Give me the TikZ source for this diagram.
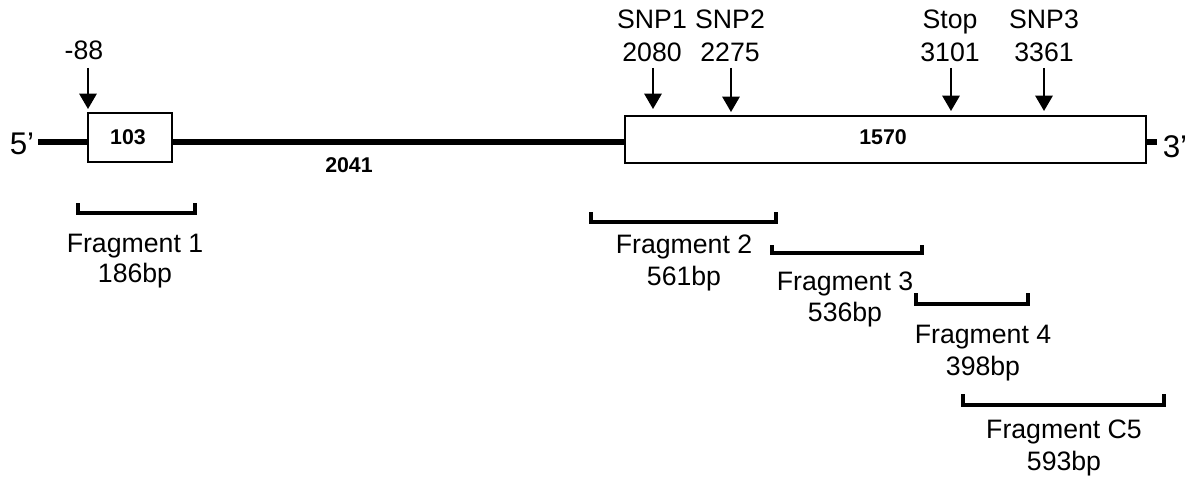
\documentclass[tikz,border=0pt]{standalone}
\usepackage{fontspec}
\setmainfont{Liberation Sans}
\usetikzlibrary{arrows.meta}
\tikzset{
  lbl/.style={anchor=base,inner sep=0pt,font=\fontsize{20pt}{24pt}\selectfont},
  endlbl/.style={anchor=base,inner sep=0pt,font=\fontsize{23.5pt}{28pt}\selectfont},
  blbl/.style={anchor=base,inner sep=0pt,font=\fontsize{16pt}{19pt}\selectfont\bfseries},
  exon/.style={draw,line width=1.5pt,fill=white,inner sep=0pt},
  dna/.style={line width=4.2pt},
  marker/.style={line width=1.4pt,-{Triangle[width=13pt,length=11.5pt]}},
  frag/.style={line width=3pt}
}
\begin{document}
\begin{tikzpicture}[x=0.75pt,y=-0.75pt]
\useasboundingbox (0,0) rectangle (1191,481);
% exons
\node[exon,minimum width=63pt,minimum height=36.75pt] (box1) at (130,137.5) {};
\node[exon,minimum width=390.75pt,minimum height=35.25pt] (box2) at (885.5,139.5) {};
% DNA line
\coordinate (l5) at (38,142);
\coordinate (l3) at (1157,142);
\draw[dna] (l5) -- (box1.west |- l5);
\draw[dna] (box1.east |- l5) -- (box2.west |- l5);
\draw[dna] (box2.east |- l3) -- (l3);
% end labels
\node[endlbl] (p5) at (22,155) {5’};
\node[endlbl] (p3) at (1175,157) {3’};
% exon labels
\node[blbl] (e103) at (128,145) {103};
\node[blbl] (e1570) at (883,145) {1570};
\node[blbl] (i2041) at (349,172) {2041};
% markers
\node[lbl] (m88) at (84,60) {-88};
\coordinate (a88) at (88,68);
\draw[marker,shorten >=2.25pt] (a88) -- (a88 |- box1.north);
\node[lbl] (snp1a) at (652,29) {SNP1};
\node[lbl] (snp1b) at (652,62) {2080};
\coordinate (a1) at (653,68);
\draw[marker,shorten >=4.5pt] (a1) -- (a1 |- box2.north);
\node[lbl] (snp2a) at (730,29) {SNP2};
\node[lbl] (snp2b) at (730,62) {2275};
\coordinate (a2) at (731,68);
\draw[marker,shorten >=2.25pt] (a2) -- (a2 |- box2.north);
\node[lbl] (stopa) at (950,29) {Stop};
\node[lbl] (stopb) at (950,62) {3101};
\coordinate (a3) at (951,68);
\draw[marker,shorten >=3pt] (a3) -- (a3 |- box2.north);
\node[lbl] (snp3a) at (1044,29) {SNP3};
\node[lbl] (snp3b) at (1044,62) {3361};
\coordinate (a4) at (1044,68);
\draw[marker,shorten >=3pt] (a4) -- (a4 |- box2.north);
% fragments
\draw[frag] (78,203) -- (78,213) -- (195,213) -- (195,203);
\node[lbl] (f1a) at (135,252) {Fragment 1};
\node[lbl] (f1b) at (135,282) {186bp};
\draw[frag] (591,212) -- (591,222) -- (776,222) -- (776,212);
\node[lbl] (f2a) at (684,253) {Fragment 2};
\node[lbl] (f2b) at (684,285) {561bp};
\draw[frag] (772,245) -- (772,253) -- (922,253) -- (922,245);
\node[lbl] (f3a) at (845,290) {Fragment 3};
\node[lbl] (f3b) at (845,321) {536bp};
\draw[frag] (916,293) -- (916,304) -- (1028,304) -- (1028,293);
\node[lbl] (f4a) at (983,343) {Fragment 4};
\node[lbl] (f4b) at (983,375) {398bp};
\draw[frag] (963,394) -- (963,405) -- (1164,405) -- (1164,394);
\node[lbl] (f5a) at (1064,438) {Fragment C5};
\node[lbl] (f5b) at (1064,470) {593bp};
\end{tikzpicture}
\end{document}
